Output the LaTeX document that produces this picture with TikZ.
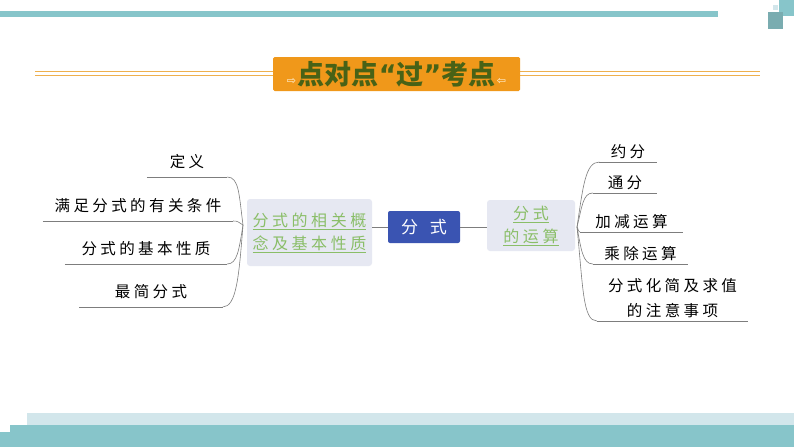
\documentclass[tikz,border=0pt]{standalone}
\usepackage{fontspec}
\usepackage{tikz}
\newfontfamily\cjk[LetterSpace=22]{Noto Sans CJK SC}
\newfontfamily\cjkplain{Noto Sans CJK SC}
\newfontfamily\symfont{DejaVu Sans}
\definecolor{barteal}{RGB}{135,197,202}
\definecolor{barlight}{RGB}{210,230,235}
\definecolor{bannerorange}{RGB}{240,152,26}
\definecolor{bannerline}{RGB}{238,176,78}
\definecolor{titlegreen}{RGB}{72,98,22}
\definecolor{titlearrow}{RGB}{255,248,230}
\definecolor{rootblue}{RGB}{58,84,178}
\definecolor{boxgray}{RGB}{230,232,242}
\definecolor{topicgreen}{RGB}{138,190,104}
\definecolor{branchgray}{RGB}{125,125,125}
\newcommand{\ul}[1]{\underline{#1}}
\newcommand{\tq}[1]{{\symfont\bfseries #1}}

\begin{document}
\begin{tikzpicture}[x=1pt,y=-1pt,
  every node/.style={inner sep=0pt},
  leafl/.style={anchor=south, inner ysep=8pt, align=center, font=\cjk\fontsize{15.5}{25}\selectfont},
  leafr/.style={anchor=south, inner ysep=3pt, align=center, font=\cjk\fontsize{15.5}{25}\selectfont},
  topic/.style={fill=boxgray, rounded corners=3pt, text=topicgreen, align=center, font=\cjk\fontsize{16}{23}\selectfont},
  branch/.style={draw=branchgray, line width=0.6pt}]
\useasboundingbox (0,0) rectangle (794,447);
\fill[white] (0,0) rectangle (794,447);

% bars
\fill[barteal] (0,11) rectangle (718,17);
\fill[barteal] (779,0) rectangle (794,16);
\fill[barteal!85!black!95] (768,12) rectangle (783,29);
\fill[barlight] (773,5) rectangle (778,10);
\fill[barlight] (27,413) rectangle (794,425);
\fill[barteal] (10,425) rectangle (794,447);
\fill[barteal] (0,432) rectangle (10,447);

% banner
\coordinate (bl) at (35,73.5);
\coordinate (br) at (760,73.5);
\draw[bannerline, line width=1.2pt] ([yshift=-1.8pt]bl) -- ([yshift=-1.8pt]br);
\draw[bannerline, line width=1.2pt] ([yshift=1.8pt]bl) -- ([yshift=1.8pt]br);
\node[fill=bannerorange, rounded corners=1.5pt, minimum width=247pt, minimum height=34pt] (title) at (396.5,74)
  {{\symfont\fontsize{11}{11}\selectfont\color{titlearrow}⇨}\,{\cjkplain\bfseries\fontsize{27}{30}\selectfont\color{titlegreen}点对点\tq{“}过\tq{”}考点}\,{\symfont\fontsize{11}{11}\selectfont\color{titlearrow}⇦}};

% main topics
\node[topic, minimum width=125pt, minimum height=67pt] (concept) at (309.5,232.5) {\ul{分式的相关概}\\\ul{念及基本性质}};
\node[fill=rootblue, rounded corners=2pt, minimum width=72pt, minimum height=32pt, text=white, font=\cjkplain\fontsize{17}{20}\selectfont] (root) at (424,227) {分\hspace{0.7em}式};
\node[topic, minimum width=88pt, minimum height=51pt] (calc) at (531,225.5) {\ul{分式}\\\ul{的运算}};

\draw[branch] (root.west) -- (root.west -| concept.east);
\draw[branch] (root.east) -- (root.east -| calc.west);

% left leaves
\node[leafl, minimum width=80pt] (l1) at (187,177) {定义};
\node[leafl, minimum width=190pt] (l2) at (138,221) {满足分式的有关条件};
\node[leafl, minimum width=162pt] (l3) at (146,264) {分式的基本性质};
\node[leafl, minimum width=143pt] (l4) at (151,307) {最简分式};

% right leaves
\node[leafr, minimum width=57pt] (r1) at (628,162) {约分};
\node[leafr, minimum width=64pt] (r2) at (625,193) {通分};
\node[leafr, minimum width=103pt] (r3) at (631.5,232) {加减运算};
\node[leafr, minimum width=95pt] (r4) at (640.5,264) {乘除运算};
\node[leafr, minimum width=151pt] (r5) at (672.5,321) {分式化简及求值\\的注意事项};

\foreach \n in {l1,l2,l3,l4,r1,r2,r3,r4,r5}
  \draw[branch] (\n.south west) -- (\n.south east);

\coordinate (lfan) at (243,225);
\coordinate (rfan) at (577,227);
\draw[branch] (lfan) .. controls +(-4,-30) and +(12,0) .. (l1.south east);
\draw[branch] (lfan) .. controls +(-5,-3) and +(5,0) .. (l2.south east);
\draw[branch] (lfan) .. controls +(-4,25) and +(10,0) .. (l3.south east);
\draw[branch] (lfan) .. controls +(-4,50) and +(14,0) .. (l4.south east);

\draw[branch] (rfan) .. controls +(6,-40) and +(-14,0) .. (r1.south west);
\draw[branch] (rfan) .. controls +(5,-20) and +(-10,0) .. (r2.south west);
\draw[branch] (rfan) .. controls +(2,3) and +(-2,0) .. (r3.south west);
\draw[branch] (rfan) .. controls +(4,22) and +(-10,0) .. (r4.south west);
\draw[branch] (rfan) .. controls +(6,60) and +(-14,0) .. (r5.south west);
\end{tikzpicture}
\end{document}
